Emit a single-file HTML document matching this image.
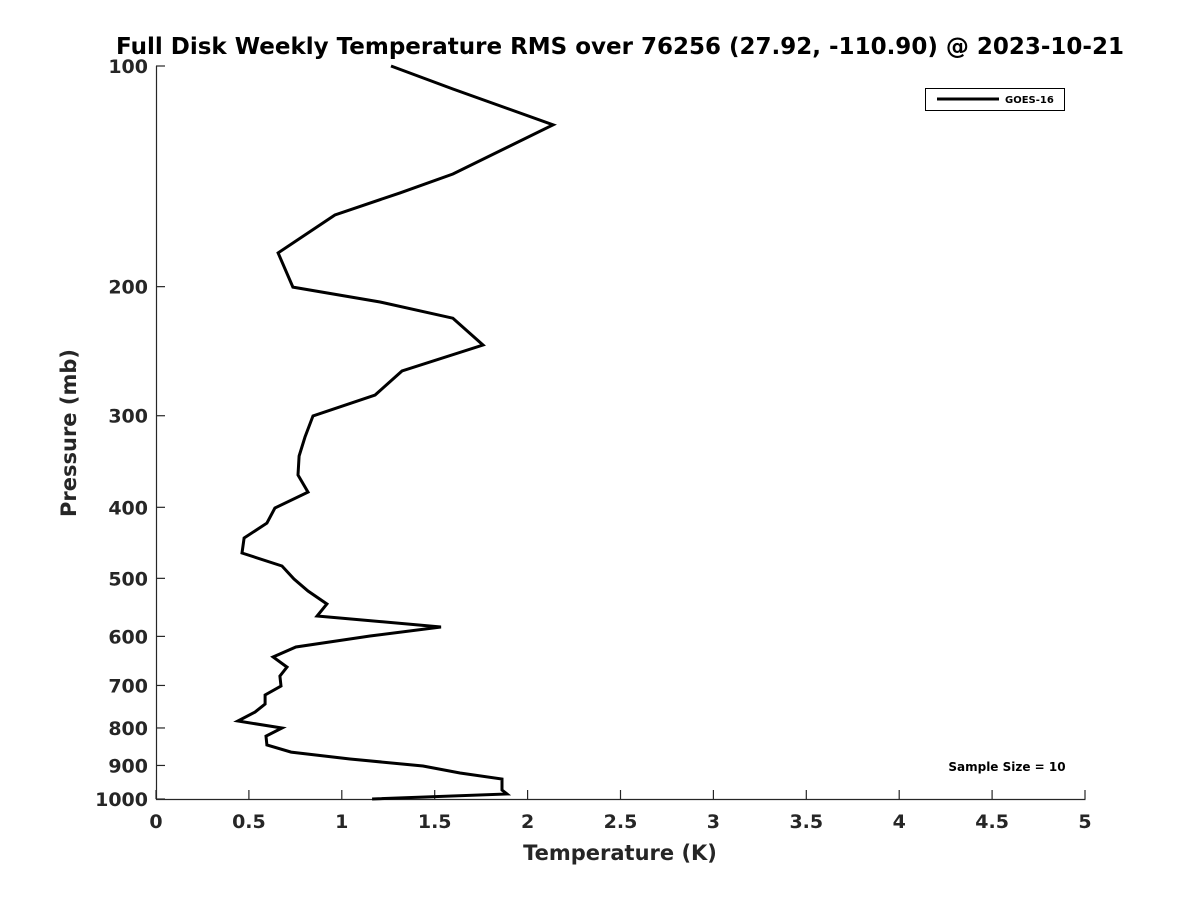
<!DOCTYPE html>
<html><head><meta charset="utf-8"><style>body{margin:0;background:#fff}svg{display:block;font-family:"DejaVu Sans","Liberation Sans",sans-serif}</style></head>
<body>
<svg id="chart" width="1200" height="900" xmlns="http://www.w3.org/2000/svg">
<rect width="1200" height="900" fill="#fff"/>
<text x="620" y="54" font-size="23" font-weight="bold" text-anchor="middle" fill="#000">Full Disk Weekly Temperature RMS over 76256 (27.92, -110.90) @ 2023-10-21</text>
<g id="axes"></g>
<path id="series" fill="none" stroke="#000" stroke-width="3" stroke-linejoin="miter"/>
<g>
<rect x="925.5" y="88.5" width="139" height="22" fill="#fff" stroke="#000" stroke-width="1"/>
<line x1="937" y1="99" x2="999" y2="99" stroke="#000" stroke-width="3"/>
<text x="1005" y="103" font-size="10" font-weight="bold">GOES-16</text>
</g>
<text x="1007" y="771" font-size="12" font-weight="bold" text-anchor="middle">Sample Size = 10</text>
<text x="620" y="860" font-size="21" font-weight="bold" text-anchor="middle" fill="#262626">Temperature (K)</text>
<text transform="translate(76,433) rotate(-90)" font-size="21" font-weight="bold" text-anchor="middle" fill="#262626">Pressure (mb)</text>
</svg>
<script>
const temps=[1.265,1.598,2.137,1.598,1.313,0.963,0.657,0.737,1.206,1.598,1.760,1.324,1.179,0.845,0.802,0.770,0.764,0.818,0.640,0.597,0.474,0.463,0.678,0.743,0.818,0.920,0.867,1.534,1.152,0.753,0.630,0.705,0.667,0.673,0.587,0.587,0.533,0.441,0.678,0.592,0.597,0.727,1.044,1.437,1.636,1.862,1.862,1.889,1.163];
const pressures=[100,107.5,120.3,140.4,149,159.7,179.9,200.3,209.9,220.8,240.2,260.7,281.1,300.2,320.7,340.5,361.4,381.3,400.9,420.3,440.5,461.7,481,501.1,520.2,542,562.8,582.6,599.3,620.3,640.2,660.7,679.7,701.3,721.4,742.1,761,782.8,800.1,820.6,844.1,862.9,882,901.6,921.5,939,972,984.5,1000];
const xTicks=[0,0.5,1,1.5,2,2.5,3,3.5,4,4.5,5];
const xTickLabels=["0","0.5","1","1.5","2","2.5","3","3.5","4","4.5","5"];
const yTicks=[100,200,300,400,500,600,700,800,900,1000];
const yTickLabels=["100","200","300","400","500","600","700","800","900","1000"];
const X0=156,X1=1085,Y0=66,Y1=799;
const xs=v=>X0+(v-0)/(5-0)*(X1-X0);
const ys=p=>Y0+(Math.log10(p)-2)/(3-2)*(Y1-Y0);
const NS="http://www.w3.org/2000/svg";
const ax=document.getElementById('axes');
function mk(t,a){const e=document.createElementNS(NS,t);for(const k in a)e.setAttribute(k,a[k]);ax.appendChild(e);return e;}
let e=mk('path',{d:`M${X0+.5},${Y0} V${Y1+.5} H${X1+.5} M${X0},${Y0+.5}h0`,fill:'none',stroke:'#262626','stroke-width':1.2});


xTicks.forEach((v,i)=>{const x=xs(v);
const t=mk('line',{x1:x,x2:x,y1:Y1,y2:Y1-9,stroke:'#262626','stroke-width':1.2});


const l=mk('text',{x:x,y:Y1+29,'font-size':19,'font-weight':'bold','text-anchor':'middle',fill:'#262626'});l.textContent=xTickLabels[i];

});
yTicks.forEach((v,i)=>{const y=ys(v);
const t=mk('line',{x1:X0,x2:X0+9,y1:y,y2:y,stroke:'#262626','stroke-width':1.2});


const l=mk('text',{x:X0-8,y:y+7,'font-size':19,'font-weight':'bold','text-anchor':'end',fill:'#262626'});l.textContent=yTickLabels[i];

});
document.getElementById('series').setAttribute('d',temps.map((t,i)=>(i?'L':'M')+xs(t).toFixed(1)+','+ys(pressures[i]).toFixed(1)).join(' '));
</script>
</body></html>
